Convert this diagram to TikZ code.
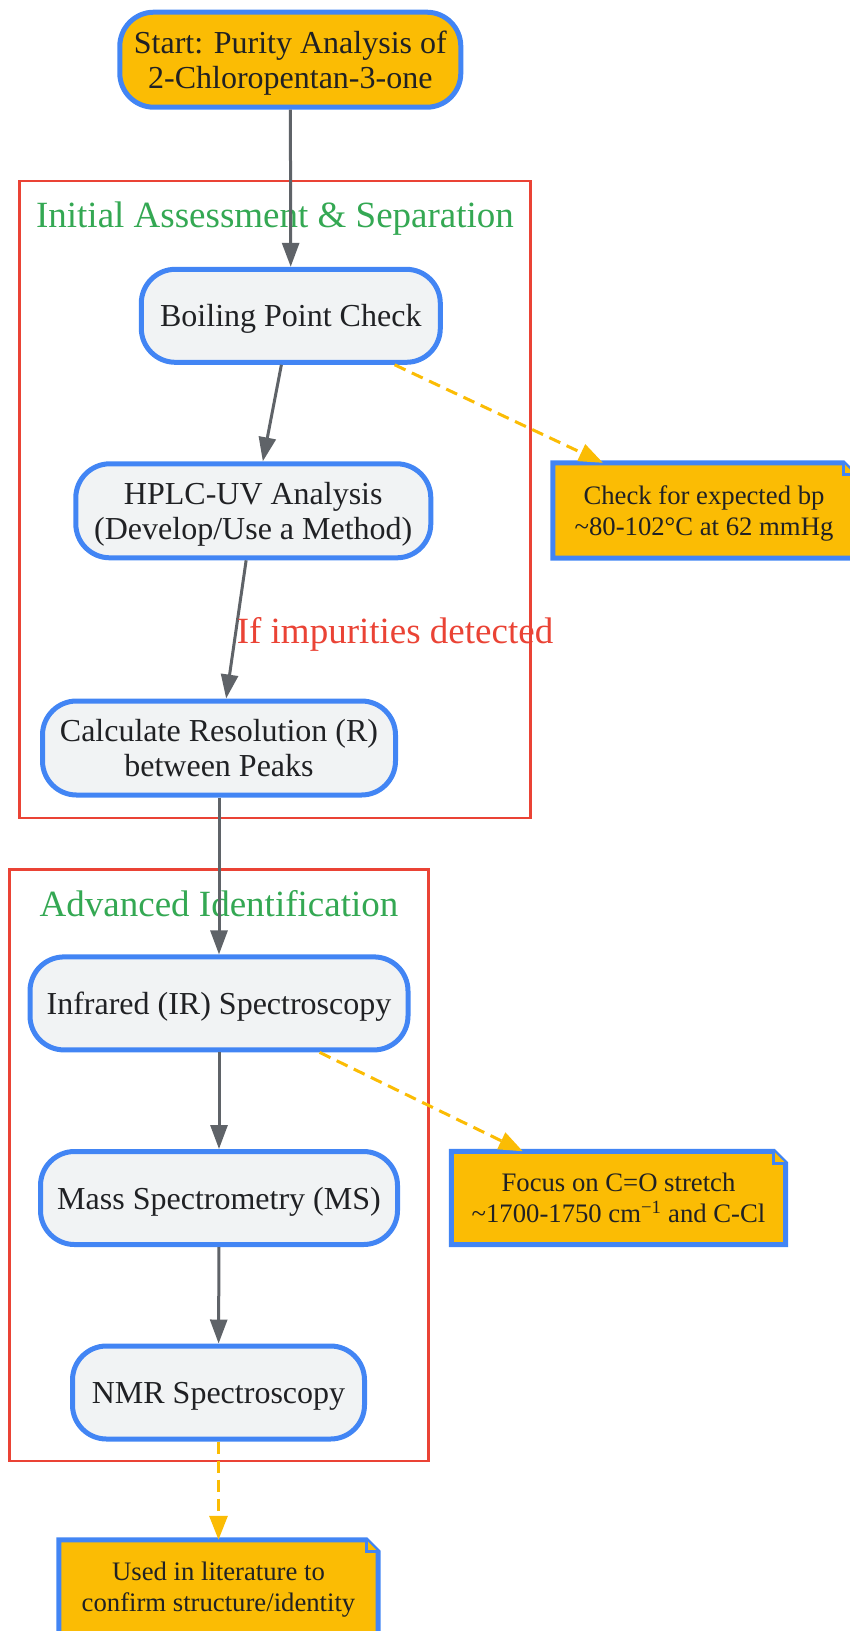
\documentclass[tikz,border=0pt]{standalone}
\usepackage{fontspec}
\setmainfont{Liberation Serif}
\usetikzlibrary{arrows.meta,backgrounds,calc}
\definecolor{gblue}{HTML}{4285F4}
\definecolor{gfill}{HTML}{F1F3F4}
\definecolor{gyellow}{HTML}{FBBC04}
\definecolor{gred}{HTML}{EA4335}
\definecolor{ggreen}{HTML}{34A853}
\definecolor{ggray}{HTML}{5F6368}
\definecolor{gtext}{HTML}{202124}
\begin{document}
\begin{tikzpicture}[x=1pt,y=-1pt,
  base/.style={rounded corners=34pt, draw=gblue, line width=5pt, align=center, text=gtext, font=\fontsize{32}{35.4}\selectfont, inner sep=0pt, text depth=0pt},
  proc/.style={base, fill=gfill},
  startbox/.style={base, fill=gyellow},
  notebox/.style={align=center, text=gtext, font=\fontsize{26.7}{31}\selectfont, inner sep=0pt, text depth=0pt},
  noteshape/.style={fill=gyellow, draw=gblue, line width=5pt},
  flow/.style={draw=ggray, line width=3pt, -{Triangle[length=24pt,width=17pt]}},
  noteflow/.style={draw=gyellow, line width=3pt, dash pattern=on 12pt off 7pt, -{Triangle[length=24pt,width=18pt]}},
  cluster/.style={draw=gred, line width=2.5pt},
  clabel/.style={text=ggreen, font=\fontsize{37}{40}\selectfont, inner sep=0pt, text depth=0pt},
  elabel/.style={text=gred, font=\fontsize{37}{40}\selectfont, inner sep=0pt, text depth=0pt}
]
\useasboundingbox (0,0) rectangle (850,1631);

% clusters
\begin{scope}[on background layer]
\draw[cluster] (19.7,181) rectangle (530.6,818);
\draw[cluster] (9.3,869.7) rectangle (428.7,1460.8);
\end{scope}
\node[clabel] (cl1) at (275,215) {Initial Assessment \& Separation};
\node[clabel] (cl2) at (219,903) {Advanced Identification};

% nodes
\node[startbox, minimum width=341pt, minimum height=95pt] (start) at (290.3,59.7) {Start: Purity Analysis of\\2-Chloropentan-3-one};
\node[proc, minimum width=299pt, minimum height=93pt] (bp) at (290.8,315.8) {Boiling Point Check};
\node[proc, minimum width=355pt, minimum height=94pt] (hplc) at (253.3,510.8) {HPLC-UV Analysis\\(Develop/Use a Method)};
\node[proc, minimum width=353pt, minimum height=94pt] (calc) at (219,748) {Calculate Resolution (R)\\between Peaks};
\node[proc, minimum width=378pt, minimum height=93pt] (ir) at (219,1003.4) {Infrared (IR) Spectroscopy};
\node[proc, minimum width=357pt, minimum height=93pt] (ms) at (219,1198) {Mass Spectrometry (MS)};
\node[proc, minimum width=292pt, minimum height=93pt] (nmr) at (218.5,1392.5) {NMR Spectroscopy};

% notes
\node[notebox, minimum width=302pt, minimum height=95pt] (n1) at (704,510.5) {Check for expected bp\\\textasciitilde 80-102°C at 62 mmHg};
\node[notebox, minimum width=334pt, minimum height=93pt] (n2) at (618.5,1198) {Focus on C=O stretch\\\textasciitilde 1700-1750 cm\textsuperscript{−1} and C-Cl};
\node[notebox, minimum width=319pt, minimum height=94pt] (n3) at (218.5,1587) {Used in literature to\\confirm structure/identity};

\begin{scope}[on background layer]
\foreach \n in {n1,n2,n3}{
  \filldraw[noteshape] (\n.north west) -- ($(\n.north east)+(-12,0)$) -- ($(\n.north east)+(0,12)$) -- (\n.south east) -- (\n.south west) -- cycle;
  \draw[draw=gblue, line width=3pt, fill=gyellow] ($(\n.north east)+(-12,0)$) -- ($(\n.north east)+(-12,12)$) -- ($(\n.north east)+(0,12)$);
}
\end{scope}

% edges
\draw[flow] (start) -- (bp);
\draw[flow] (bp) -- (hplc);
\draw[flow] (hplc) -- (calc);
\node[elabel] (lbl) at (395,630) {If impurities detected};
\draw[flow] (calc) -- (ir);
\draw[flow] (ir) -- (ms);
\draw[flow] (ms) -- (nmr);
\draw[noteflow] (bp) -- (n1);
\draw[noteflow] (ir) -- (n2);
\draw[noteflow] (nmr) -- (n3);
\end{tikzpicture}
\end{document}
